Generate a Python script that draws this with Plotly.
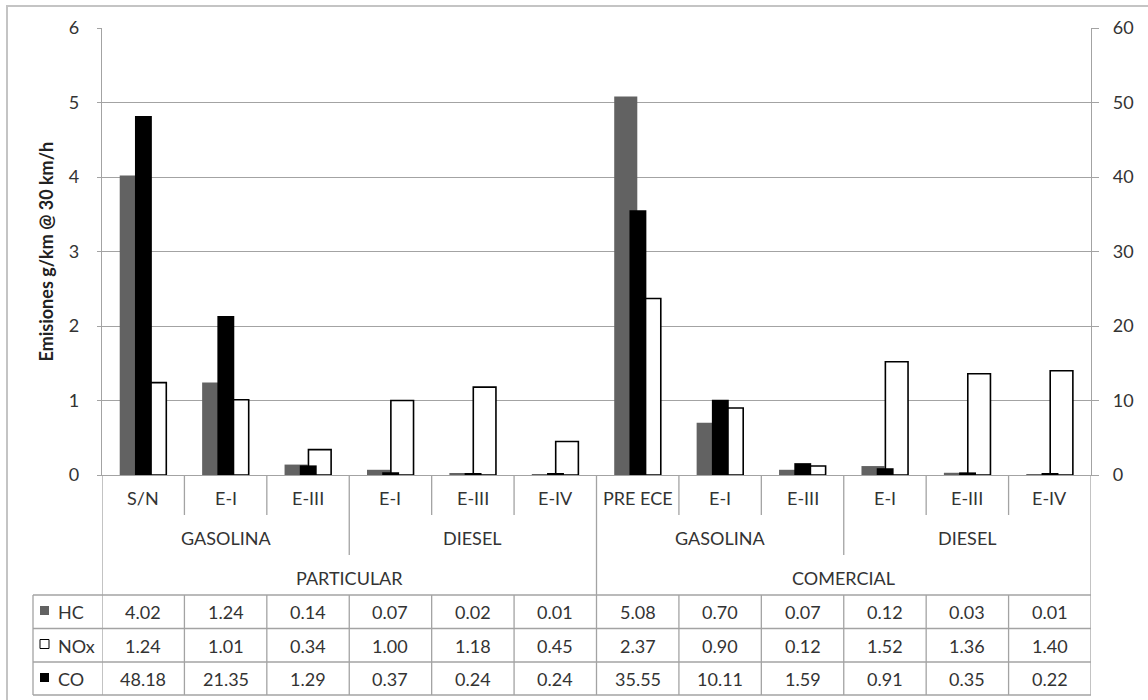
import plotly.graph_objects as go

# --- data -----------------------------------------------------------------
subcats = ["S/N", "E-I", "E-III", "E-I", "E-III", "E-IV",
           "PRE ECE", "E-I", "E-III", "E-I", "E-III", "E-IV"]
fuel_groups = [("GASOLINA", 0, 2), ("DIESEL", 3, 5),
               ("GASOLINA", 6, 8), ("DIESEL", 9, 11)]
segment_groups = [("PARTICULAR", 0, 5), ("COMERCIAL", 6, 11)]

hc = [4.02, 1.24, 0.14, 0.07, 0.02, 0.01, 5.08, 0.70, 0.07, 0.12, 0.03, 0.01]
nox = [1.24, 1.01, 0.34, 1.00, 1.18, 0.45, 2.37, 0.90, 0.12, 1.52, 1.36, 1.40]
co = [48.18, 21.35, 1.29, 0.37, 0.24, 0.24, 35.55, 10.11, 1.59, 0.91, 0.35, 0.22]

left_ticks = [0, 1, 2, 3, 4, 5, 6]
right_ticks = [0, 10, 20, 30, 40, 50, 60]
y_title = "Emisiones g/km @ 30 km/h"

# --- styling --------------------------------------------------------------
W, H = 1148, 700
ML, MR, MT, MB = 102, 57, 28, 225
PW, PH = W - ML - MR, H - MT - MB
FONT = "Lato, Carlito, 'Open Sans', sans-serif"
FS = 18
TXT = "#333333"
GRID = "#a3a3a3"
HC_COL = "#626262"
CO_COL = "#000000"

def py(pix):
    """pixel row -> paper y"""
    return (H - MB - pix) / PH

def px(pix):
    """pixel column -> paper x"""
    return (pix - ML) / PW

x = list(range(len(subcats)))

fig = go.Figure()
fig.add_trace(go.Bar(x=x, y=hc, name="HC", marker=dict(color=HC_COL, line=dict(width=0)),
                     width=0.28, offset=-0.285, yaxis="y"))
fig.add_trace(go.Bar(x=x, y=nox, name="NOx",
                     marker=dict(color="white", line=dict(color="black", width=1.6)),
                     width=0.275, offset=0.005, yaxis="y"))
fig.add_trace(go.Bar(x=x, y=co, name="CO", marker=dict(color=CO_COL, line=dict(width=0)),
                     width=0.205, offset=-0.1, yaxis="y2"))

shapes = []
annotations = []

def vline(xv, p0, p1, ref="x"):
    shapes.append(dict(type="line", xref=ref, yref="paper", x0=xv, x1=xv,
                       y0=py(p0), y1=py(p1), line=dict(color=GRID, width=1.3), layer="above"))

def hline(xa, xb, p):
    shapes.append(dict(type="line", xref="paper", yref="paper", x0=xa, x1=xb,
                       y0=py(p), y1=py(p), line=dict(color=GRID, width=1.3), layer="above"))

def label(xv, yp, text, xref="x", xanchor="center"):
    annotations.append(dict(x=xv, y=py(yp), xref=xref, yref="paper", text=text,
                            xanchor=xanchor, yanchor="middle", showarrow=False,
                            font=dict(size=FS, color=TXT, family=FONT)))

n = len(subcats)
group_edges = {g[2] + 0.5 for g in fuel_groups[:-1]}
segment_edges = {s[2] + 0.5 for s in segment_groups[:-1]}

# category separators of the multi-level axis
for k in range(n - 1):
    b = k + 0.5
    if b in segment_edges:
        vline(b, 475, 695)
    elif b in group_edges:
        vline(b, 475, 555)
        vline(b, 595, 695)
    else:
        vline(b, 475, 515)
        vline(b, 595, 695)
vline(-0.5, 475, 695)
vline(n - 0.5, 475, 695)

# data table grid
tbl_left = px(33)
for p in (595, 628.5, 662, 695):
    hline(tbl_left, 1.0, p)
vline(tbl_left, 595, 695, ref="paper")

# category labels
for k, lab in enumerate(subcats):
    label(k, 498, lab)
for lab, a, b in fuel_groups:
    label((a + b) / 2, 538, lab)
for lab, a, b in segment_groups:
    label((a + b) / 2, 578, lab)

# table rows: legend key + values
rows = [("HC", hc, 612, dict(fillcolor=HC_COL, line=dict(width=0))),
        ("NOx", nox, 645.5, dict(fillcolor="white", line=dict(color="black", width=1))),
        ("CO", co, 679, dict(fillcolor=CO_COL, line=dict(width=0)))]
for name, vals, yc, key in rows:
    shapes.append(dict(type="rect", xref="paper", yref="paper",
                       x0=px(40), x1=px(49), y0=py(yc + 3), y1=py(yc - 6), **key))
    label(px(56), yc, name, xref="paper", xanchor="left")
    for k, v in enumerate(vals):
        label(k, yc, f"{v:.2f}")

# vertical axis title
annotations.append(dict(x=px(45), y=0.5, xref="paper", yref="paper",
                        text=f"<b>{y_title}</b>", textangle=-90,
                        xanchor="center", yanchor="middle", showarrow=False,
                        font=dict(size=18, color="#222222", family=FONT)))

# chart frame
shapes.append(dict(type="rect", xref="paper", yref="paper", x0=px(7), x1=px(1152),
                   y0=py(704), y1=py(6), line=dict(color="#c4c4c4", width=2), layer="below"))

fig.update_layout(
    width=W, height=H,
    margin=dict(l=ML, r=MR, t=MT, b=MB, pad=0),
    paper_bgcolor="white", plot_bgcolor="white",
    barmode="overlay", showlegend=False,
    font=dict(family=FONT, size=FS, color=TXT),
    xaxis=dict(range=[-0.5, n - 0.5], showticklabels=False, showgrid=False, zeroline=False,
               showline=True, linecolor=GRID, linewidth=1.3, ticks="", fixedrange=True),
    yaxis=dict(range=[0, 6], tickvals=left_ticks, showgrid=True, gridcolor=GRID, gridwidth=1.3,
               zeroline=False, showline=True, linecolor=GRID, linewidth=1.3,
               ticks="outside", ticklen=4, tickcolor=GRID, ticklabelstandoff=14,
               tickfont=dict(size=FS, color=TXT)),
    yaxis2=dict(range=[0, 60], tickvals=right_ticks, overlaying="y", side="right",
                showgrid=False, zeroline=False, showline=True, linecolor=GRID, linewidth=1.3,
                ticks="outside", ticklen=7, tickcolor=GRID, ticklabelstandoff=10,
                tickfont=dict(size=FS, color=TXT)),
    shapes=shapes, annotations=annotations,
)

fig.write_html("out.html")
